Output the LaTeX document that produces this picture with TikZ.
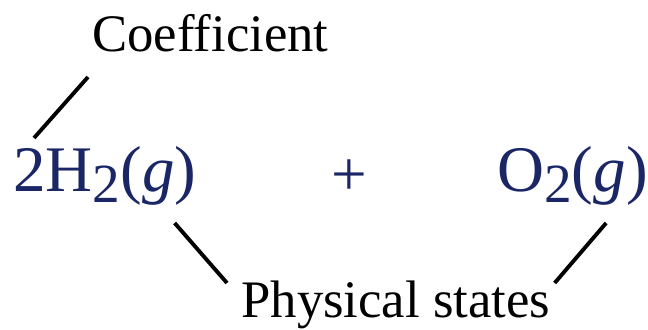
\documentclass[tikz,border=0pt]{standalone}
\usepackage{fontspec}
\setmainfont{Liberation Serif}
\usetikzlibrary{calc}

\definecolor{chemblue}{RGB}{26,38,102}
\newcommand{\chemsub}[1]{\raisebox{-0.16em}{\scalebox{0.85}{#1}}}

\begin{document}
\begin{tikzpicture}[x=0.2mm, y=-0.2mm,
  label/.style={inner sep=0pt, font=\fontsize{30}{36}\selectfont},
  chem/.style={inner sep=0pt, text=chemblue, font=\fontsize{37}{44}\selectfont},
  pointer/.style={line width=2.2pt}]

\useasboundingbox (0,0) rectangle (648,330);

% ---------- Equation ----------
\node[chem, anchor=base west] (hyd) at (13,192) {2H\chemsub{2}(\textit{g})};
\node[chem, font=\fontsize{36}{43}\selectfont] (plus) at (349,178) {+};
\node[chem, anchor=base west] (oxy) at (497,192) {O\chemsub{2}(\textit{g})};

% ---------- Labels ----------
\node[label, anchor=base west] (coef) at (92,52) {Coefficient};
\node[label, anchor=base west] (states) at (241,317) {Physical states};

% ---------- Pointers ----------
\draw[pointer] ($(coef.base west)+(-4,25)$) -- ($(hyd.base west)+(21,-54)$);
\draw[pointer] ($(hyd.base east)+(-22,31)$) -- ($(states.base west)+(-14,-34)$);
\draw[pointer] ($(oxy.base east)+(-42,31)$) -- ($(states.base east)+(4,-34)$);

\end{tikzpicture}
\end{document}
